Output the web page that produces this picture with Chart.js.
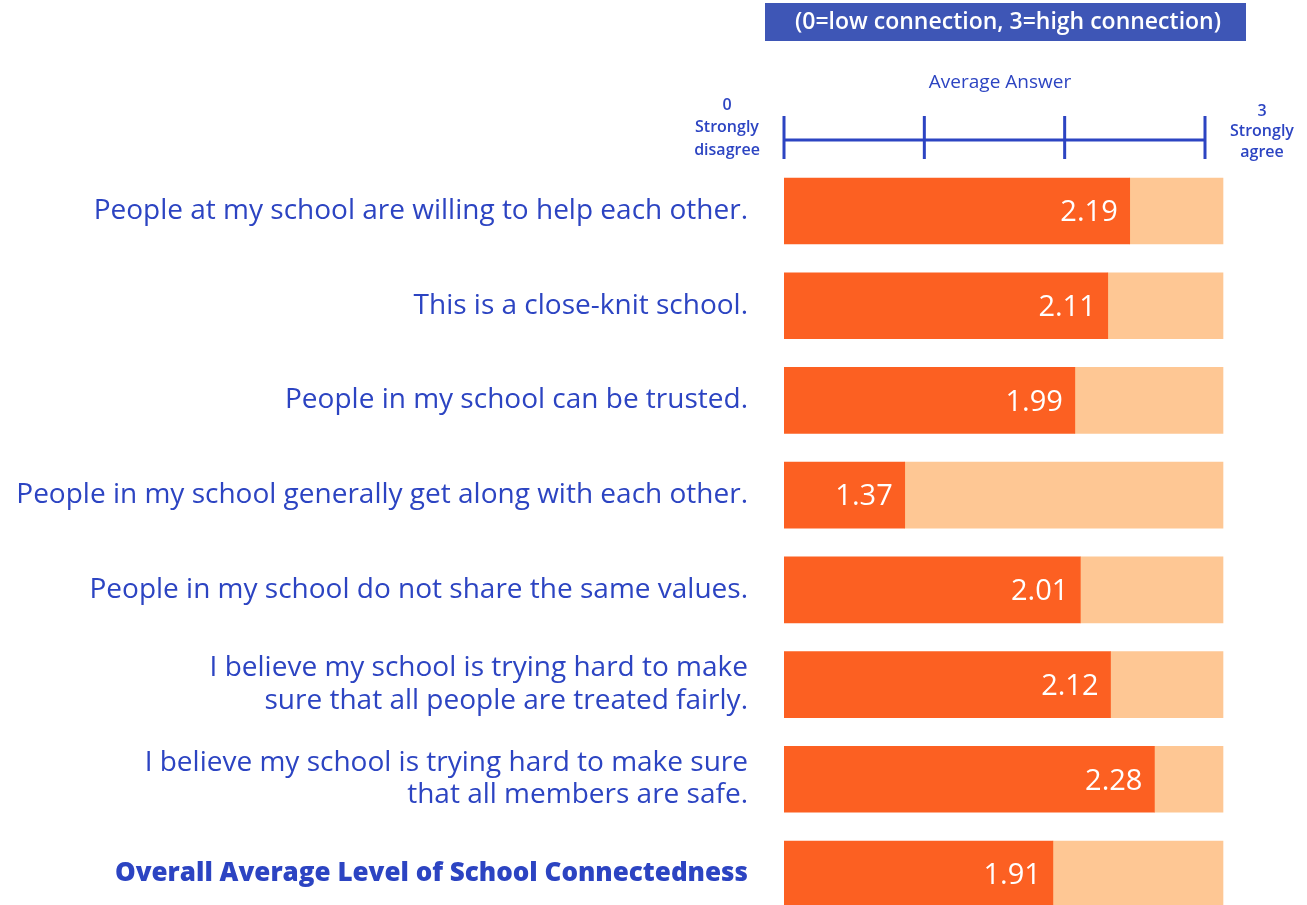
<!DOCTYPE html>
<html>
<head>
<meta charset="utf-8">
<script src="https://cdn.jsdelivr.net/npm/chart.js@4.4.0/dist/chart.umd.min.js"></script>
<style>
  html, body { margin: 0; padding: 0; background: #fff; }
  #wrap { position: relative; width: 1307px; height: 905px; }
</style>
</head>
<body>
<div id="wrap"><canvas id="grafico"></canvas></div>
<script>
// dados do gráfico
const perguntas = [
  'People at my school are willing to help each other.',
  'This is a close-knit school.',
  'People in my school can be trusted.',
  'People in my school generally get along with each other.',
  'People in my school do not share the same values.',
  ['I believe my school is trying hard to make', 'sure that all people are treated fairly.'],
  ['I believe my school is trying hard to make sure', 'that all members are safe.'],
  'Overall Average Level of School Connectedness'
];
const medias = [2.19, 2.11, 1.99, 1.37, 2.01, 2.12, 2.28, 1.91];
const escalaMin = 0.93;   // início visível das barras
const escalaMax = 2.53;   // fim da faixa clara
const escalaTopo = [0, 1, 2, 3];
const rotuloTopo = 'Average Answer';
const rotuloMin = ['0', 'Strongly', 'disagree'];
const rotuloMax = ['3', 'Strongly', 'agree'];
const cabecalho = '(0=low connection, 3=high connection)';

const AZUL = '#2C44C2';
const LARANJA = '#FC6022';
const PESSEGO = '#FEC794';
const FONTE = '"Open Sans", sans-serif';

const restante = medias.map(v => escalaMax - v);

// desenha cabeçalho, eixo decorativo e valores dentro das barras
const extras = {
  id: 'extras',
  afterDatasetsDraw(chart) {
    const ctx = chart.ctx;
    const topo = chart.scales.xTop;
    ctx.save();

    // caixa do cabeçalho
    ctx.fillStyle = '#3E56B6';
    ctx.fillRect(765, 3, 481, 38);
    ctx.fillStyle = '#fff';
    ctx.font = '600 23px ' + FONTE;
    ctx.textAlign = 'center';
    ctx.textBaseline = 'middle';
    ctx.fillText(cabecalho, 1008, 22);

    // título do eixo
    ctx.fillStyle = AZUL;
    ctx.font = '500 19px ' + FONTE;
    ctx.fillText(rotuloTopo, 1000, 83);

    // linha e marcas do eixo
    const yLinha = 140;
    const x0 = topo.getPixelForValue(escalaTopo[0]);
    const x3 = topo.getPixelForValue(escalaTopo[escalaTopo.length - 1]);
    ctx.strokeStyle = AZUL;
    ctx.lineWidth = 3;
    ctx.beginPath();
    ctx.moveTo(x0, yLinha);
    ctx.lineTo(x3, yLinha);
    escalaTopo.forEach(v => {
      const x = topo.getPixelForValue(v);
      ctx.moveTo(x, 116);
      ctx.lineTo(x, 159);
    });
    ctx.stroke();

    ctx.font = '600 16px ' + FONTE;
    rotuloMin.forEach((t, i) => ctx.fillText(t, x0 - 57, 105 + i * 22.5));
    rotuloMax.forEach((t, i) => ctx.fillText(t, x3 + 57, 111 + i * 20.5));

    // valores
    const meta = chart.getDatasetMeta(0);
    ctx.fillStyle = '#fff';
    ctx.font = '400 29px ' + FONTE;
    ctx.textAlign = 'right';
    meta.data.forEach((bar, i) => {
      ctx.fillText(medias[i].toFixed(2), bar.x - 12, bar.y + 2);
    });
    ctx.restore();
  }
};

const corte = { left: 0, top: false, right: false, bottom: false };

const ctx = document.getElementById('grafico').getContext('2d');
new Chart(ctx, {
  type: 'bar',
  data: {
    labels: perguntas,
    datasets: [
      { data: medias, backgroundColor: LARANJA, barThickness: 66, clip: corte },
      { data: restante, backgroundColor: PESSEGO, barThickness: 66, clip: corte }
    ]
  },
  options: {
    indexAxis: 'y',
    responsive: true,
    maintainAspectRatio: false,
    animation: false,
    layout: { padding: { top: 211, bottom: 31, left: 0, right: 84 } },
    plugins: { legend: { display: false }, tooltip: { enabled: false } },
    scales: {
      x: {
        stacked: true,
        min: escalaMin,
        max: escalaMax,
        display: false
      },
      xTop: {
        position: 'top',
        min: 0,
        max: 3 * (1223 - 784) / (1205 - 784),
        display: false
      },
      y: {
        stacked: true,
        offset: false,
        grid: { display: false, drawTicks: false },
        border: { display: false },
        afterFit(scale) {
          scale.width = 784;
          scale.paddingTop = 0;
          scale.paddingBottom = 0;
        },
        ticks: {
          padding: 36,
          color: AZUL,
          font: c => c.index === 7
            ? { family: FONTE, size: 26, weight: '800', lineHeight: 1.15 }
            : { family: FONTE, size: 28, weight: '400', lineHeight: 1.15 }
        }
      }
    }
  },
  plugins: [extras]
});
</script>
</body>
</html>
